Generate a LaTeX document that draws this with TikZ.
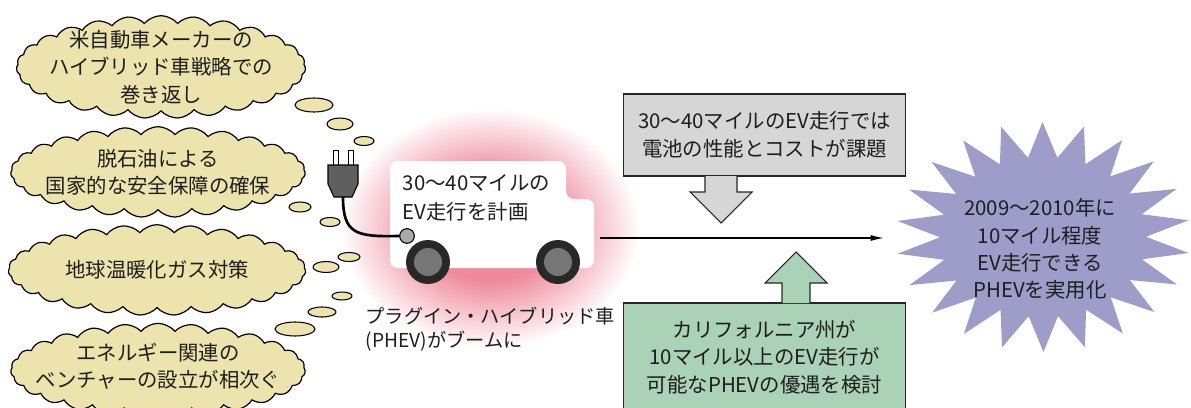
\documentclass[tikz,border=0pt]{standalone}
\usepackage{fontspec}
\setmainfont{Noto Sans CJK JP}
\usetikzlibrary{shapes.symbols,arrows.meta,calc}

\definecolor{cloudfill}{RGB}{236,228,172}
\definecolor{inkgray}{RGB}{30,30,30}
\definecolor{boxgray}{RGB}{214,214,214}
\definecolor{boxgreen}{RGB}{170,210,182}
\definecolor{starfill}{RGB}{158,156,200}
\definecolor{glowpink}{RGB}{238,138,156}
\definecolor{plugdark}{RGB}{95,95,95}
\definecolor{wheeldark}{RGB}{40,40,40}
\definecolor{wheelhub}{RGB}{118,118,118}
\definecolor{sockgray}{RGB}{170,170,170}

% soft pink halo behind the van
\pgfdeclareradialshading{vanglow}{\pgfpoint{0bp}{0bp}}{%
  color(0bp)=(glowpink); color(11bp)=(glowpink); color(25bp)=(white); color(50bp)=(white)}

\begin{document}
\begin{tikzpicture}[x=0.75pt,y=-0.75pt,
  thought/.style={cloud, cloud puffs=27, cloud puff arc=100, cloud ignores aspect,
    draw=black, line width=0.9pt, fill=cloudfill, inner sep=0pt},
  puff/.style={draw=black, line width=0.8pt, fill=cloudfill},
  body/.style={text=inkgray, font=\fontsize{15.3}{20.5}\selectfont, align=center},
  panel/.style={draw=black!85, line width=0.8pt, inner sep=0pt},
  blockarrow/.style={draw=black!85, line width=0.8pt, line join=miter},
  cord/.style={draw=black, line width=2pt},
]
\clip (0,0) rectangle (1191,407);

% halo, van body and wheels
\shade[shading=vanglow] (490,228) ellipse [x radius=150, y radius=120];
\fill[white, rounded corners=6pt] (390,161) -- (566,161) -- (566,199) -- (594,199)
  -- (594,268) -- (390,268) -- cycle;
\foreach \wx in {428,558} {
  \fill[wheeldark] (\wx,262) circle [radius=22];
  \fill[wheelhub] (\wx,262) circle [radius=14];
}
\node[body, align=left, anchor=west, font=\fontsize{15.3}{21.5}\selectfont]
  (vantext) at (398,198) {30〜40マイルの\\EV走行を計画};

% plug and cord
\filldraw[fill=white, draw=black, line width=0.7pt] (333,150) rectangle (338,166);
\filldraw[fill=white, draw=black, line width=0.7pt] (348,150) rectangle (353,166);
\filldraw[fill=plugdark, draw=black, line width=0.8pt] (328,165) -- (358,165) -- (358,184)
  -- (352,197) -- (334,197) -- (328,184) -- cycle;
\coordinate (plugbase) at (343,197);
\node[circle, fill=sockgray, draw=black, line width=0.8pt, minimum size=11pt, inner sep=0pt]
  (socket) at (407,236) {};
\draw[cord] (plugbase) .. controls (343,234) and (356,237) .. (socket.west);

\node[text=inkgray, font=\fontsize{14.4}{17.5}\selectfont, align=left, anchor=west]
  (caption) at (361,329) {プラグイン・ハイブリッド車\\(PHEV)がブームに};

% thought-bubble trail
\foreach \px/\py/\rx/\ry in {314/105/19/7, 340/124/13/6, 364/141/10/4.5,
    300/207/11/5, 330/222/10/4.5, 349/257/11/4.5, 326/267/13/5.5,
    342/296/10/4, 322/312/14/5, 295/329/20/7}
  \filldraw[puff] (\px,\py) ellipse [x radius=\rx, y radius=\ry];

% the four clouds
\node[thought, minimum width=217pt, minimum height=77pt] (c1) at (161,67) {};
\node[body] (c1t) at (c1) {米自動車メーカーの\\ハイブリッド車戦略での\\巻き返し};
\node[thought, minimum width=221pt, minimum height=68pt] (c2) at (158,172) {};
\node[body] (c2t) at (c2) {脱石油による\\国家的な安全保障の確保};
\node[thought, minimum width=223pt, minimum height=68pt] (c3) at (157,270) {};
\node[body] (c3t) at (c3) {地球温暖化ガス対策};
\node[thought, minimum width=221pt, minimum height=70pt] (c4) at (158,370) {};
\node[body] (c4t) at (158,366) {エネルギー関連の\\ベンチャーの設立が相次ぐ};

% main arrow towards the goal
\coordinate (vanfront) at (600,238);
\coordinate (goaltip) at (884,238);
\draw[line width=1pt, -{Latex[length=10pt,width=4.5pt]}] (vanfront) -- (goaltip);

% obstacle and support panels
\node[panel, fill=boxgray, minimum width=212pt, minimum height=61.5pt, body,
  font=\fontsize{15.3}{21}\selectfont] (issue) at (764.5,135)
  {30〜40マイルのEV走行では\\電池の性能とコストが課題};
\filldraw[blockarrow, fill=boxgray] (705,176) -- (705,192) -- (690,192) -- (721,223)
  -- (752,192) -- (737,192) -- (737,176);

\node[panel, fill=boxgreen, minimum width=212pt, minimum height=81pt, body] (calif)
  at (764.5,357) {カリフォルニア州が\\10マイル以上のEV走行が\\可能なPHEVの優遇を検討};
\filldraw[blockarrow, fill=boxgreen] (782,303) -- (782,283) -- (765,283) -- (796,252)
  -- (827,283) -- (810,283) -- (810,303);

% goal starburst
\fill[starfill] ({1043+147*cos(172)},{237-115*sin(172)})
  \foreach \k in {0,...,21} {
    -- ({1043+103*cos(172+(\k+0.5)*360/22)},{237-80*sin(172+(\k+0.5)*360/22)})
    -- ({1043+147*cos(172+(\k+1)*360/22)},{237-115*sin(172+(\k+1)*360/22)})
  } -- cycle;
\node[body] (goal) at (1040,249) {2009〜2010年に\\10マイル程度\\EV走行できる\\PHEVを実用化};
\end{tikzpicture}
\end{document}
